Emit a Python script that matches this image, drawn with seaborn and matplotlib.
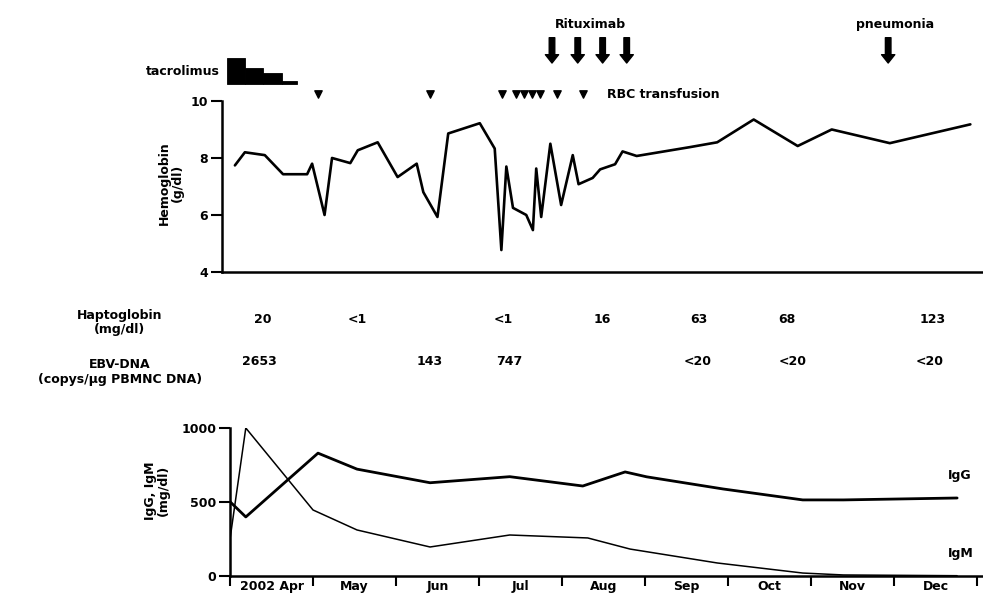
import numpy as np
import pandas as pd
import seaborn as sns
import matplotlib.pyplot as plt
from matplotlib import transforms

# x = months since 1 Apr 2002 (0 = Apr 1, 1 = May 1, ...)
hb_month = [0.06, 0.18, 0.42, 0.64, 0.93, 0.99, 1.14, 1.23, 1.45, 1.54,
            1.78, 2.02, 2.25, 2.33, 2.50, 2.63, 3.01, 3.19, 3.27, 3.33,
            3.41, 3.57, 3.65, 3.69, 3.75, 3.86, 3.99, 4.13, 4.20, 4.37,
            4.46, 4.64, 4.73, 4.90, 5.54, 5.87, 6.31, 6.84, 7.25, 7.95, 8.92]
hb_value = [7.74, 8.2, 8.1, 7.43, 7.43, 7.8, 6.0, 8.0, 7.82, 8.27,
            8.55, 7.33, 7.8, 6.8, 5.93, 8.86, 9.22, 8.33, 4.77, 7.7,
            6.25, 6.0, 5.47, 7.63, 5.93, 8.5, 6.35, 8.1, 7.08, 7.3,
            7.6, 7.78, 8.23, 8.07, 8.38, 8.55, 9.35, 8.42, 9.0, 8.52, 9.18]

igg_month = [0.0, 0.19, 1.06, 1.53, 2.41, 3.37, 4.25, 4.76, 5.02, 5.94, 6.9, 7.39, 8.76]
igg_value = [502, 399, 830, 722, 630, 671, 608, 703, 670, 588, 514, 514, 527]
igm_month = [0.0, 0.19, 1.0, 1.53, 2.41, 3.37, 4.31, 4.82, 5.87, 6.9, 7.39, 8.76]
igm_value = [250, 1000, 446, 311, 196, 277, 257, 182, 88, 20, 7, 2]

rbc_month = [1.06, 2.41, 3.28, 3.45, 3.54, 3.64, 3.73, 3.94, 4.25]
rituximab_month = [3.88, 4.19, 4.49, 4.78]
pneumonia_month = [7.93]

# tacrolimus dose steps (bar edges in months, relative level)
tac_edges = [-0.04, 0.18, 0.40, 0.63, 0.81]
tac_level = [26, 16, 11, 3]

hapto_month = [0.40, 1.53, 3.29, 4.48, 5.65, 6.71, 8.46]
hapto_text = ["20", "<1", "<1", "16", "63", "68", "123"]
ebv_month = [0.35, 2.40, 3.36, 5.63, 6.78, 8.43]
ebv_text = ["2653", "143", "747", "<20", "<20", "<20"]

month_labels = ["2002 Apr", "May", "Jun", "Jul", "Aug", "Sep", "Oct", "Nov", "Dec"]

sns.set_style("ticks")
plt.rcParams['font.family'] = ['DejaVu Sans']
plt.rcParams['font.weight'] = 'bold'
plt.rcParams['axes.linewidth'] = 1.8
plt.rcParams['xtick.major.width'] = 1.5
plt.rcParams['ytick.major.width'] = 1.5
for k in ['text.color', 'axes.edgecolor', 'axes.labelcolor', 'xtick.color', 'ytick.color']:
    plt.rcParams[k] = 'black'
FS = 9

fig = plt.figure(figsize=(9.83, 6), dpi=100)
ax_top = fig.add_axes([0.2258, 0.5467, 0.774, 0.285])
ax_bot = fig.add_axes([0.234, 0.04, 0.765, 0.2467])

# hemoglobin
df_hb = pd.DataFrame({"month": hb_month, "hb": hb_value})
sns.lineplot(data=df_hb, x="month", y="hb", ax=ax_top, color="black", lw=1.9, estimator=None)
ax_top.set_xlim(-0.096, 9.07)
ax_top.set_ylim(4, 10)
ax_top.set_yticks([4, 6, 8, 10])
ax_top.tick_params(axis='y', length=8, labelsize=FS, pad=2)
ax_top.tick_params(axis='x', length=0, labelbottom=False)
ax_top.set_xlabel("")
ax_top.set_ylabel("")
sns.despine(ax=ax_top)

tr = ax_top.get_xaxis_transform()
# tacrolimus block
ax_top.bar(tac_edges[:-1], np.array(tac_level) / 171, width=np.diff(tac_edges), bottom=1.099,
           align='edge', color='black', edgecolor='black', linewidth=0.6,
           transform=tr, clip_on=False)
ax_top.text(-0.12, 1.17, "tacrolimus", transform=tr, ha='right', va='center', fontsize=FS)

# RBC transfusions
ax_top.scatter(rbc_month, [1.041] * len(rbc_month), marker='v', s=28, color='black',
               transform=tr, clip_on=False)
ax_top.text(4.54, 1.035, "RBC transfusion", transform=tr, ha='left', va='center', fontsize=FS)

# arrows
arrow = dict(arrowstyle="simple,head_length=0.6,head_width=0.95,tail_width=0.4",
             color="black", mutation_scale=10, shrinkA=0, shrinkB=0)
for m in rituximab_month + pneumonia_month:
    ax_top.annotate("", xy=(m, 1.222), xytext=(m, 1.37), xycoords=tr, textcoords=tr,
                    arrowprops=arrow, annotation_clip=False)
ax_top.text(4.34, 1.427, "Rituximab", transform=tr, ha='center', va='baseline', fontsize=FS)
ax_top.text(8.01, 1.427, "pneumonia", transform=tr, ha='center', va='baseline', fontsize=FS)

fig.text(0.174, 0.695, "Hemoglobin\n(g/dl)", rotation=90, ha='center', va='center',
         multialignment='center', fontsize=FS, linespacing=1.0)

# IgG / IgM
df_ig = pd.concat([
    pd.DataFrame({"month": igg_month, "value": igg_value, "Ig": "IgG"}),
    pd.DataFrame({"month": igm_month, "value": igm_value, "Ig": "IgM"}),
])
sns.lineplot(data=df_ig, x="month", y="value", hue="Ig", size="Ig",
             sizes={"IgG": 2.0, "IgM": 1.1}, palette={"IgG": "black", "IgM": "black"},
             ax=ax_bot, estimator=None, legend=False)
ax_bot.set_xlim(0, 9.06)
ax_bot.set_ylim(0, 1000)
ax_bot.set_yticks([0, 500, 1000])
ax_bot.set_xticks(np.arange(0, 10))
ax_bot.set_xticks(np.arange(0.5, 9, 1), minor=True)
ax_bot.set_xticklabels([])
ax_bot.set_xticklabels(month_labels, minor=True)
ax_bot.tick_params(axis='x', which='major', length=7, labelbottom=False)
ax_bot.tick_params(axis='x', which='minor', length=0, labelsize=FS, pad=3)
ax_bot.tick_params(axis='y', length=8, labelsize=FS, pad=2)
ax_bot.set_xlabel("")
ax_bot.set_ylabel("")
sns.despine(ax=ax_bot)
ax_bot.text(8.65, 682, "IgG", ha='left', va='center', fontsize=FS, clip_on=False)
ax_bot.text(8.65, 155, "IgM", ha='left', va='center', fontsize=FS, clip_on=False)

fig.text(0.16, 0.182, "IgG, IgM\n(mg/dl)", rotation=90, ha='center', va='center',
         multialignment='center', fontsize=FS, linespacing=1.0)

# lab table rows
row_tr = transforms.blended_transform_factory(ax_bot.transData, fig.transFigure)
for m, t in zip(hapto_month, hapto_text):
    fig.text(m, 0.467, t, transform=row_tr, ha='center', va='center', fontsize=FS)
for m, t in zip(ebv_month, ebv_text):
    fig.text(m, 0.398, t, transform=row_tr, ha='center', va='center', fontsize=FS)
fig.text(0.122, 0.4625, "Haptoglobin\n(mg/dl)", ha='center', va='center',
         multialignment='center', fontsize=FS, linespacing=1.15)
fig.text(0.122, 0.38, "EBV-DNA\n(copys/\u03bcg PBMNC DNA)", ha='center', va='center',
         multialignment='center', fontsize=FS, linespacing=1.15)

fig.savefig("out.png", dpi=100, facecolor="white")
